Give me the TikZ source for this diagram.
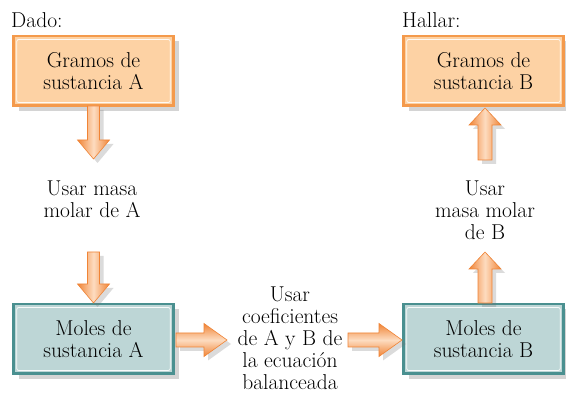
\documentclass[tikz,border=0pt]{standalone}
\usetikzlibrary{shadows,calc}
\definecolor{ofill}{HTML}{FDD2A4}
\definecolor{oline}{HTML}{F49A4C}
\definecolor{tfill}{HTML}{BDD6D6}
\definecolor{tline}{HTML}{4A9090}
\definecolor{adark}{HTML}{F08436}
\definecolor{alight}{HTML}{FDDCC0}
\newcommand\vdown[3]{\path[varrow] (#1-6,#2) -- (#1-6,#3-19) -- (#1-16,#3-19) -- (#1,#3) -- (#1+16,#3-19) -- (#1+6,#3-19) -- (#1+6,#2) -- cycle;}
\newcommand\vup[3]{\path[varrow] (#1-7,#2) -- (#1-7,#3+17) -- (#1-16,#3+17) -- (#1,#3) -- (#1+16,#3+17) -- (#1+7,#3+17) -- (#1+7,#2) -- cycle;}
\newcommand\hright[3]{\path[harrow] (#2,#1-7) -- (#3-23,#1-7) -- (#3-23,#1-16.5) -- (#3,#1) -- (#3-23,#1+16.5) -- (#3-23,#1+7) -- (#2,#1+7) -- cycle;}
\tikzset{
  txt/.style={font=\fontsize{21.5}{22}\selectfont, align=center, inner sep=0pt},
  boxbase/.style={txt, minimum width=160pt, minimum height=69.5pt, line width=2.5pt,
    drop shadow={shadow xshift=5pt, shadow yshift=-5pt, opacity=0.3, fill=black!55}},
  obox/.style={boxbase, fill=ofill, draw=oline},
  tbox/.style={boxbase, fill=tfill, draw=tline},
  innerline/.style={white, line width=0.8pt, rounded corners=2pt, opacity=0.9},
  arrowbase/.style={draw=adark, line width=0.6pt,
    drop shadow={shadow xshift=4pt, shadow yshift=-4pt, opacity=0.25, fill=black!55}},
  varrow/.style={arrowbase, left color=adark, right color=adark, middle color=alight},
  harrow/.style={arrowbase, top color=adark, bottom color=adark, middle color=alight},
}
\begin{document}
\begin{tikzpicture}[x=1pt,y=-1pt]
\useasboundingbox[fill=white] (0,0) rectangle (566,393);
% labels
\node[txt, anchor=base west] (dado) at (11,28) {Dado:};
\node[txt, anchor=base west] (hallar) at (402,28) {Hallar:};
% boxes
\node[obox] (ga) at (93.5,71) {Gramos de\\sustancia A};
\node[obox] (gb) at (483.5,71) {Gramos de\\sustancia B};
\node[tbox] (ma) at (93.5,339) {Moles de\\sustancia A};
\node[tbox] (mb) at (483.5,339) {Moles de\\sustancia B};
\foreach \b in {ga,gb,ma,mb}{
  \draw[innerline] ($(\b.south west)+(4.5,-4.5)$) rectangle ($(\b.north east)+(-4.5,4.5)$);
}
% texts
\node[txt] (t1) at (92,199) {Usar masa\\molar de A};
\node[txt] (t2) at (290,338.5) {Usar\\coeficientes\\de A y B de\\la ecuación\\balanceada};
\node[txt] (t3) at (485,210) {Usar\\masa molar\\de B};
% arrows
\vdown{93.5}{106}{159}
\vdown{93.5}{252}{303}
\hright{340}{176}{227}
\hright{340}{348}{402}
\vup{485}{303}{252}
\vup{485}{160}{108}
\end{tikzpicture}
\end{document}
